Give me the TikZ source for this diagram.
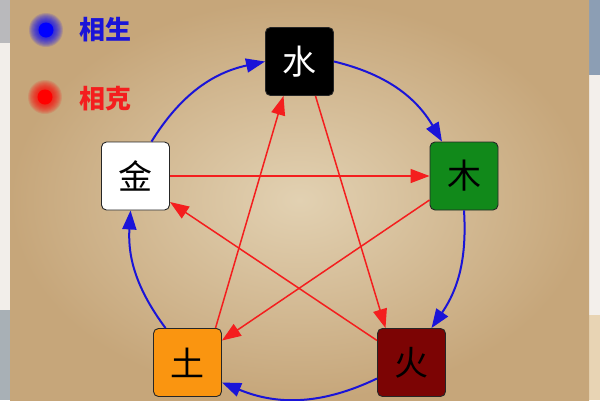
\documentclass[tikz,border=0pt]{standalone}
\usepackage{fontspec}
\newfontfamily\cjk{Noto Sans CJK SC}
\usetikzlibrary{arrows.meta}
\definecolor{parchin}{HTML}{E2D1B2}
\definecolor{parchout}{HTML}{C6A67A}
\definecolor{shengblue}{HTML}{1A14D8}
\definecolor{kered}{HTML}{F41E1E}
\definecolor{wgreen}{HTML}{11891A}
\definecolor{wred}{HTML}{7C0404}
\definecolor{worange}{HTML}{FA9510}
\tikzset{
  elem/.style={draw=black!85, line width=0.9pt, rounded corners=5pt,
    minimum width=68pt, minimum height=68pt, inner sep=0pt,
    font=\cjk\fontsize{34}{34}\selectfont},
  sheng/.style={draw=shengblue, line width=2pt,
    -{Triangle[length=19pt,width=14pt]}},
  ke/.style={draw=kered, line width=1.5pt,
    -{Triangle[length=19pt,width=14pt]}},
  legend/.style={font=\cjk\bfseries\fontsize{26}{26}\selectfont, anchor=west, inner sep=0pt}
}
\begin{document}
\begin{tikzpicture}[x=1pt,y=-1pt]
\useasboundingbox (0,0) rectangle (600,400);
% side strips
\fill[color={rgb,255:red,185;green,185;blue,188}] (0,0) rectangle (10,43);
\fill[color={rgb,255:red,242;green,238;blue,234}] (0,43) rectangle (10,310);
\fill[color={rgb,255:red,168;green,176;blue,182}] (0,310) rectangle (10,400);
\fill[color={rgb,255:red,140;green,158;blue,180}] (589,0) rectangle (600,75);
\fill[color={rgb,255:red,243;green,239;blue,235}] (589,75) rectangle (600,315);
\fill[color={rgb,255:red,232;green,212;blue,180}] (589,315) rectangle (600,400);
% parchment
\shade[inner color=parchin, outer color=parchout] (10,0) rectangle (589,400);
% legend dots (fuzzy)
\foreach \r in {17,16,...,8} {
  \fill[blue, opacity=0.12] (46,30) circle (\r);
  \fill[red, opacity=0.12] (45,97) circle (\r);
}
\fill[blue] (46,30) circle (7.5);
\fill[red] (45,97) circle (7.5);
\node[legend, text=shengblue] (lsheng) at (79,30) {相生};
\node[legend, text=kered] (lke) at (79,99) {相克};
% elements
\node[elem, fill=black, text=white] (shui) at (299.5,61.5) {水};
\node[elem, fill=wgreen, text=black] (mu) at (464,176) {木};
\node[elem, fill=wred, text=black] (huo) at (411.5,362.5) {火};
\node[elem, fill=worange, text=black] (tu) at (187.5,362.5) {土};
\node[elem, fill=white, text=black] (jin) at (135.5,176) {金};
% sheng cycle (blue)
\draw[sheng] ([xshift=16pt]jin.north) to[bend left=23] (shui.west);
\draw[sheng] (shui.east) to[bend left=23] ([xshift=-22pt]mu.north);
\draw[sheng] (mu.south) to[bend left=19] ([xshift=20pt]huo.north);
\draw[sheng] ([yshift=-16pt]huo.west) to[bend left=24] ([yshift=-20pt]tu.east);
\draw[sheng] ([xshift=-22pt]tu.north) to[bend left=20] ([xshift=-5pt]jin.south);
% ke cycle (red)
\draw[ke] (jin.east) -- (mu.west);
\draw[ke] ([yshift=-24pt]mu.west) -- ([yshift=22pt]tu.east);
\draw[ke] ([xshift=28pt]tu.north) -- ([xshift=-16pt]shui.south);
\draw[ke] ([xshift=16pt]shui.south) -- ([xshift=-26pt]huo.north);
\draw[ke] ([yshift=22pt]huo.west) -- ([yshift=-26pt]jin.east);
\end{tikzpicture}
\end{document}
